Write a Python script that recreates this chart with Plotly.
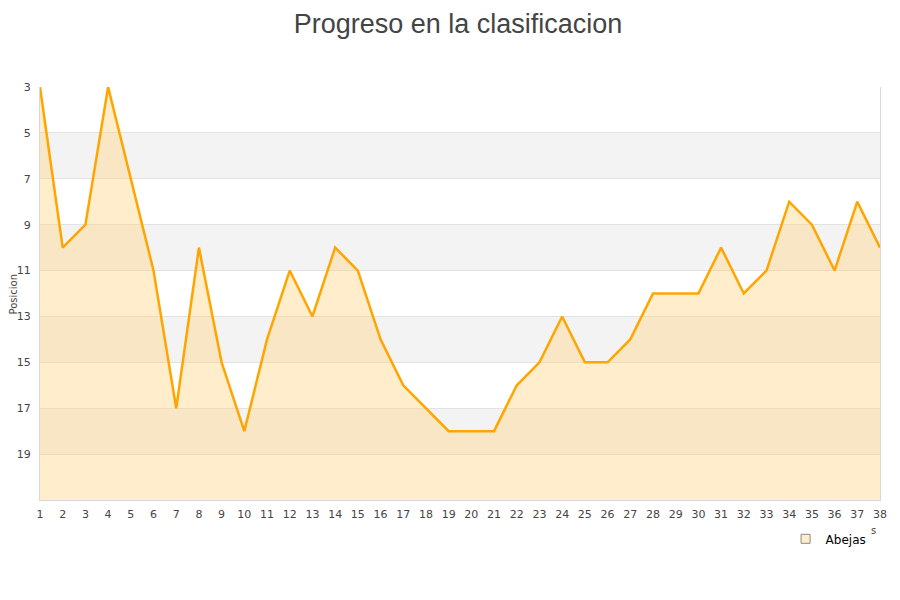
import plotly.graph_objects as go

jornadas = list(range(1, 39))
posicion = [3, 10, 9, 3, 7, 11, 17, 10, 15, 18, 14, 11, 13, 10, 11, 14, 16, 17, 18, 18,
            18, 16, 15, 13, 15, 15, 14, 12, 12, 12, 10, 12, 11, 8, 9, 11, 8, 10]
equipo = "Abejas"
y_ticks = [3, 5, 7, 9, 11, 13, 15, 17, 19]
y_min, y_max = 3, 21

fig = go.Figure()

# baseline for fill
fig.add_trace(go.Scatter(x=jornadas, y=[y_max] * len(jornadas), mode="lines",
                         line=dict(width=0, color="rgba(0,0,0,0)"), showlegend=False,
                         hoverinfo="skip"))
fig.add_trace(go.Scatter(x=jornadas, y=posicion, mode="lines", name=equipo,
                         fill="tonexty", fillcolor="rgba(255,210,128,0.4)",
                         line=dict(color="#FFA500", width=2.5), showlegend=False,
                         legendgroup="a"))
# legend entry (square)
fig.add_trace(go.Scatter(x=[None], y=[None], mode="markers", name=equipo, legendgroup="a",
                         marker=dict(symbol="square", size=9, color="#FFEDCC",
                                     line=dict(color="#888888", width=1))))

shapes = []
for lo in range(5, 21, 4):
    shapes.append(dict(type="rect", xref="paper", yref="y", x0=0, x1=1, y0=lo, y1=lo + 2,
                       fillcolor="#F3F3F3", line=dict(width=0), layer="below"))

fig.update_layout(
    width=900, height=600,
    paper_bgcolor="white", plot_bgcolor="white",
    margin=dict(l=32, r=28, t=79, b=108, autoexpand=False),
    title=dict(text="Progreso en la clasificacion", x=0.5, xanchor="center", y=0.99,
               yanchor="top", font=dict(family="Liberation Sans, Arial", size=27, color="#444444")),
    shapes=shapes,
    font=dict(family="DejaVu Sans, Verdana", size=11, color="#444444"),
    showlegend=True,
    legend=dict(x=0.99, xanchor="right", y=-0.094, yanchor="middle", orientation="h",
                font=dict(size=12, color="#000000"), bgcolor="rgba(0,0,0,0)",
                itemwidth=30),
    xaxis=dict(range=[1, 38], tickmode="array", tickvals=jornadas, showgrid=False,
               zeroline=False, showline=True, linecolor="#D8D8D8", linewidth=1,
               mirror=False, ticks="", ticklabelstandoff=4,
               tickfont=dict(size=11, color="#444444")),
    yaxis=dict(range=[y_max, y_min], tickmode="array", tickvals=y_ticks, showgrid=True,
               gridcolor="#E2E2E2", gridwidth=1, zeroline=False, showline=True,
               linecolor="#D8D8D8", mirror=True, ticks="", ticklabelstandoff=6,
               automargin=False,
               tickfont=dict(size=11, color="#444444")),
)
fig.add_annotation(text="Posicion", xref="paper", yref="paper", x=-0.031, y=0.5,
                   xanchor="center", yanchor="middle", textangle=-90, showarrow=False,
                   font=dict(size=10, color="#444444"))
fig.add_annotation(text="s", xref="paper", yref="paper", x=0.998, y=-0.075, xanchor="right",
                   yanchor="middle", showarrow=False, font=dict(size=10, color="#444444"))

fig.write_html("out.html")
